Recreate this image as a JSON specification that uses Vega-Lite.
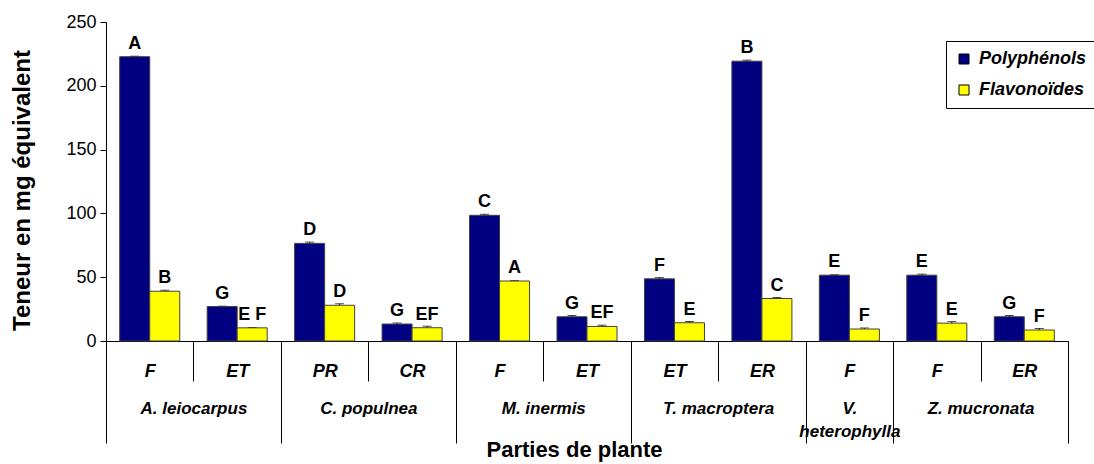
{
  "$schema": "https://vega.github.io/schema/vega-lite/v6.json",
  "autosize": {"type": "none"},
  "padding": {"left": 106, "top": 22, "right": 26, "bottom": 123},
  "width": 962,
  "height": 319,
  "background": "white",
  "config": {
    "view": {"stroke": null},
    "font": "Liberation Sans",
    "axis": {"labelFont": "Liberation Sans", "titleFont": "Liberation Sans", "domainColor": "#000", "tickColor": "#000", "labelColor": "#000", "titleColor": "#000"}
  },
  "data": {
    "values": [
      {"species": "A. leiocarpus", "part": "F", "key": "A. leiocarpus|F", "series": "Polyphénols", "value": 222.8, "err": 0.4, "letter": "A"},
      {"species": "A. leiocarpus", "part": "F", "key": "A. leiocarpus|F", "series": "Flavonoïdes", "value": 39, "err": 0.8, "letter": "B"},
      {"species": "A. leiocarpus", "part": "ET", "key": "A. leiocarpus|ET", "series": "Polyphénols", "value": 27, "err": 0.3, "letter": "G"},
      {"species": "A. leiocarpus", "part": "ET", "key": "A. leiocarpus|ET", "series": "Flavonoïdes", "value": 10.3, "err": 0.3, "letter": "E F"},
      {"species": "C. populnea", "part": "PR", "key": "C. populnea|PR", "series": "Polyphénols", "value": 76.5, "err": 1, "letter": "D"},
      {"species": "C. populnea", "part": "PR", "key": "C. populnea|PR", "series": "Flavonoïdes", "value": 28, "err": 1.2, "letter": "D"},
      {"species": "C. populnea", "part": "CR", "key": "C. populnea|CR", "series": "Polyphénols", "value": 13.3, "err": 0.8, "letter": "G"},
      {"species": "C. populnea", "part": "CR", "key": "C. populnea|CR", "series": "Flavonoïdes", "value": 10.4, "err": 1.2, "letter": "EF"},
      {"species": "M. inermis", "part": "F", "key": "M. inermis|F", "series": "Polyphénols", "value": 98.5, "err": 0.8, "letter": "C"},
      {"species": "M. inermis", "part": "F", "key": "M. inermis|F", "series": "Flavonoïdes", "value": 47, "err": 0.3, "letter": "A"},
      {"species": "M. inermis", "part": "ET", "key": "M. inermis|ET", "series": "Polyphénols", "value": 19, "err": 1, "letter": "G"},
      {"species": "M. inermis", "part": "ET", "key": "M. inermis|ET", "series": "Flavonoïdes", "value": 11.4, "err": 1, "letter": "EF"},
      {"species": "T. macroptera", "part": "ET", "key": "T. macroptera|ET", "series": "Polyphénols", "value": 48.7, "err": 1, "letter": "F"},
      {"species": "T. macroptera", "part": "ET", "key": "T. macroptera|ET", "series": "Flavonoïdes", "value": 14.3, "err": 1, "letter": "E"},
      {"species": "T. macroptera", "part": "ER", "key": "T. macroptera|ER", "series": "Polyphénols", "value": 219.3, "err": 0.8, "letter": "B"},
      {"species": "T. macroptera", "part": "ER", "key": "T. macroptera|ER", "series": "Flavonoïdes", "value": 33.3, "err": 0.8, "letter": "C"},
      {"species": "V. heterophylla", "part": "F", "key": "V. heterophylla|F", "series": "Polyphénols", "value": 51.6, "err": 0.3, "letter": "E"},
      {"species": "V. heterophylla", "part": "F", "key": "V. heterophylla|F", "series": "Flavonoïdes", "value": 9.4, "err": 0.8, "letter": "F"},
      {"species": "Z. mucronata", "part": "F", "key": "Z. mucronata|F", "series": "Polyphénols", "value": 51.6, "err": 0.8, "letter": "E"},
      {"species": "Z. mucronata", "part": "F", "key": "Z. mucronata|F", "series": "Flavonoïdes", "value": 14, "err": 1.2, "letter": "E"},
      {"species": "Z. mucronata", "part": "ER", "key": "Z. mucronata|ER", "series": "Polyphénols", "value": 19, "err": 1, "letter": "G"},
      {"species": "Z. mucronata", "part": "ER", "key": "Z. mucronata|ER", "series": "Flavonoïdes", "value": 8.6, "err": 1.2, "letter": "F"}
    ]
  },
  "resolve": {"scale": {"x": "independent"}},
  "layer": [
    {
      "encoding": {
        "x": {
          "field": "key", "type": "nominal", "sort": null,
          "scale": {"paddingInner": 0, "paddingOuter": 0},
          "axis": {
            "orient": "bottom",
            "title": null,
            "tickBand": "extent",
            "tickSize": 40,
            "domainColor": "#000",
            "labelExpr": "isString(datum.value) ? split(datum.value, '|')[1] : ''",
            "labelFont": "Liberation Sans",
            "labelFontSize": 18,
            "labelFontWeight": "bold",
            "labelFontStyle": "italic",
            "labelAngle": 0,
            "labelBaseline": "middle",
            "labelPadding": -10
          }
        },
        "xOffset": {"field": "series", "type": "nominal", "sort": ["Polyphénols", "Flavonoïdes"], "scale": {"paddingInner": 0, "paddingOuter": 0.457}},
        "y": {
          "field": "value", "type": "quantitative",
          "scale": {"domain": [0, 250], "nice": false},
          "axis": {
            "title": "Teneur en mg équivalent",
            "titleFontSize": 24,
            "titleFontWeight": "bold",
            "titlePadding": 31,
            "titleY": 168,
            "values": [0, 50, 100, 150, 200, 250],
            "grid": false,
            "tickSize": 6,
            "labelPadding": 4,
            "labelFontSize": 18,
            "labelFontWeight": "normal"
          }
        }
      },
      "layer": [
        {
          "mark": {"type": "errorbar", "ticks": {"size": 9, "color": "#000"}, "color": "#000", "thickness": 1},
          "encoding": {
            "yError": {"field": "err"}
          }
        },
        {
          "mark": {"type": "bar", "stroke": "#404040", "strokeWidth": 1},
          "encoding": {
            "color": {
              "field": "series", "type": "nominal",
              "scale": {"domain": ["Polyphénols", "Flavonoïdes"], "range": ["#000080", "#FFFF00"]},
              "legend": {
                "title": null,
                "orient": "none",
                "legendX": 840,
                "legendY": 19,
                "strokeColor": "#000",
                "fillColor": "white",
                "padding": 9,
                "rowPadding": 13,
                "symbolType": "square",
                "symbolSize": 100,
                "symbolStrokeColor": "#000",
                "symbolStrokeWidth": 1,
                "labelFontSize": 18,
                "labelFontWeight": "bold",
                "labelFontStyle": "italic",
                "labelFont": "Liberation Sans",
                "labelColor": "#000",
                "labelOffset": 6
              }
            }
          }
        },
        {
          "mark": {"type": "text", "baseline": "bottom", "dy": -4, "fontSize": 18, "fontWeight": "bold", "font": "Liberation Sans", "color": "#000"},
          "encoding": {
            "text": {"field": "letter"}
          }
        }
      ]
    },
    {
      "mark": {"type": "point", "opacity": 0},
      "encoding": {
        "x": {
          "field": "key", "type": "nominal", "sort": null,
          "scale": {"paddingInner": 0, "paddingOuter": 0},
          "axis": {
            "orient": "bottom",
            "title": "Parties de plante",
            "titleFontSize": 22,
            "titleFontWeight": "bold",
            "titlePadding": -4,
            "titleX": 468,
            "domain": false,
            "tickBand": "extent",
            "tickSize": 102,
            "tickOpacity": {"condition": {"test": "indexof(['A. leiocarpus|F', 'C. populnea|PR', 'M. inermis|F', 'T. macroptera|ET', 'Z. mucronata|F'], datum.value) >= 0", "value": 0}, "value": 1},
            "labelExpr": "datum.value == 'V. heterophylla|F' ? ['V.', 'heterophylla'] : (indexof(['A. leiocarpus|F', 'C. populnea|PR', 'M. inermis|F', 'T. macroptera|ET', 'Z. mucronata|F'], datum.value) >= 0 ? split(datum.value, '|')[0] : '')",
            "labelOffset": {"condition": {"test": "datum.value == 'V. heterophylla|F'", "value": 0}, "value": 43.73},
            "labelFontSize": 17,
            "labelFontWeight": "bold",
            "labelFontStyle": "italic",
            "labelAngle": 0,
            "labelBaseline": "top",
            "labelLineHeight": 23,
            "labelPadding": -43
          }
        },
        "y": {"datum": 0, "type": "quantitative"}
      }
    }
  ]
}
